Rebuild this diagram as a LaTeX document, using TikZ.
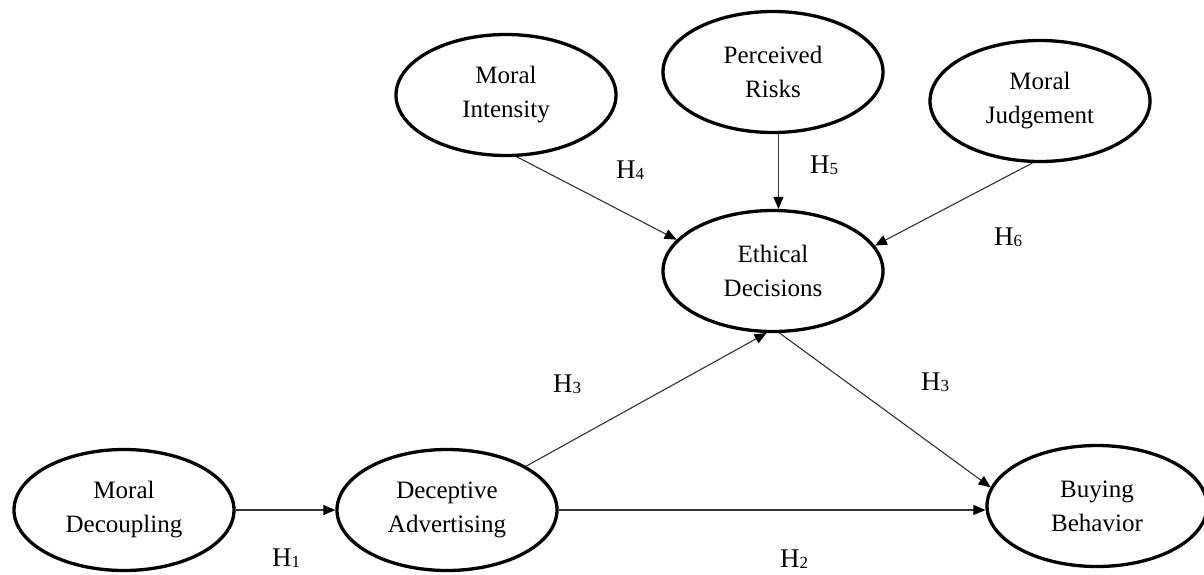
\documentclass[tikz,border=0pt]{standalone}
\usepackage{fontspec}
\setmainfont{Liberation Serif}
\usetikzlibrary{shapes.geometric,arrows.meta}
\newcommand\hsub[1]{H\raisebox{-1.5pt}{\fontsize{17}{17}\selectfont #1}}
\begin{document}
\begin{tikzpicture}[x=1pt,y=-1pt,
  latent/.style={ellipse,draw=black,line width=3.3pt,minimum width=220pt,minimum height=121pt,inner sep=0pt,align=center,font=\fontsize{25}{34}\selectfont},
  hpath/.style={draw=black!80,line width=1.1pt,-{Triangle[length=12pt,width=10pt,color=black]}},
  hlab/.style={font=\fontsize{27}{30}\selectfont,inner sep=0pt}]
\fill[white] (0,0) rectangle (1204,574);
\useasboundingbox (0,0) rectangle (1204,574);
% constructs
\node[latent] (mi) at (506,95) {Moral\\Intensity};
\node[latent] (pr) at (773,72) {Perceived\\Risks};
\node[latent] (mj) at (1040,101) {Moral\\Judgement};
\node[latent] (ed) at (773,271) {Ethical\\Decisions};
\node[latent] (md) at (124,510) {Moral\\Decoupling};
\node[latent] (da) at (447,510) {Deceptive\\Advertising};
\node[latent] (bb) at (1097,506) {Buying\\Behavior};
% paths
\draw[hpath] (md) -- (da);
\draw[hpath] (da.east) -- (da.east -| bb.west);
\draw[hpath] (da) -- (ed.-96);
\draw[hpath] (ed.-84) -- (bb.170);
\draw[hpath] (mi.-80) -- (ed.162);
\draw[hpath] (pr.-85) -- (ed.85);
\draw[hpath] (mj.-97) -- (ed.14);
% hypothesis labels
\node[hlab] (h1) at (286,558) {\hsub{1}};
\node[hlab] (h2) at (794,559) {\hsub{2}};
\node[hlab] (h3a) at (567,384) {\hsub{3}};
\node[hlab] (h3b) at (935,382) {\hsub{3}};
\node[hlab] (h4) at (630,170) {\hsub{4}};
\node[hlab] (h5) at (824,165) {\hsub{5}};
\node[hlab] (h6) at (1008,237) {\hsub{6}};
\end{tikzpicture}
\end{document}
